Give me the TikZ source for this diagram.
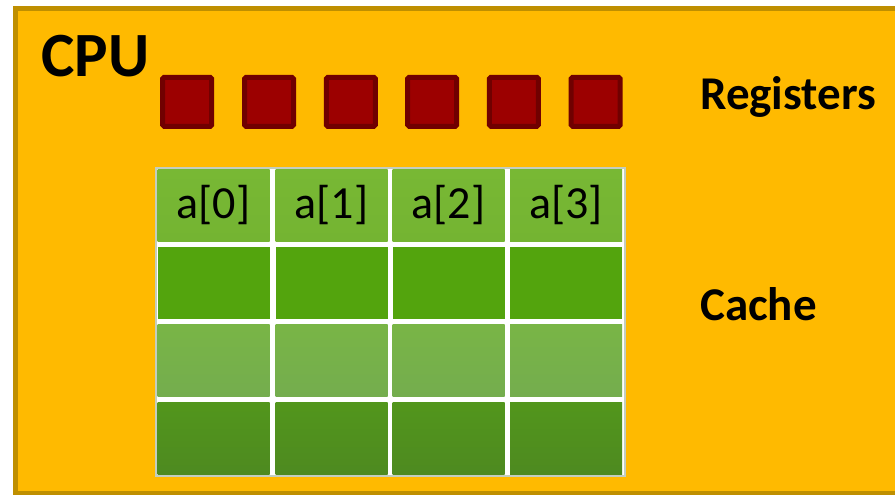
\documentclass[tikz,border=0pt]{standalone}
\usepackage{fontspec}
\setmainfont{Carlito}
\definecolor{cpufill}{HTML}{FFBA00}
\definecolor{cpuline}{HTML}{BF8F00}
\definecolor{regfill}{HTML}{9C0000}
\definecolor{regline}{HTML}{700000}
\definecolor{gridline}{HTML}{C3CEC0}
\definecolor{rowA}{HTML}{78B834}
\definecolor{rowAb}{HTML}{74B432}
\definecolor{rowB}{HTML}{53A40D}
\definecolor{rowC}{HTML}{79B546}
\definecolor{rowCb}{HTML}{74AD4E}
\definecolor{rowD}{HTML}{52961C}
\definecolor{rowDb}{HTML}{4E8A20}
\tikzset{
  regbox/.style={draw=regline, fill=regfill, line width=5pt, minimum size=49pt, inner sep=0pt, rounded corners=1.5pt},
  cell/.style={minimum width=112pt, minimum height=72pt, inner sep=0pt, font=\fontsize{46}{46}\selectfont},
  biglabel/.style={anchor=base west, inner sep=0pt, font=\fontsize{47}{47}\selectfont\bfseries},
}
\begin{document}
\begin{tikzpicture}[x=1pt,y=-1pt]
\useasboundingbox (0,0) rectangle (895,495);
\fill[white] (0,0) rectangle (895,495);
% CPU box
\draw[draw=cpuline, fill=cpufill, line width=5pt] (15.5,8.5) rectangle (905,493.5);
\node[anchor=base west, inner sep=0pt, font=\fontsize{63}{63}\selectfont\bfseries] (cpu) at (41,77) {CPU};
% registers
\foreach \i/\x in {1/187.2,2/269,3/350.8,4/432.2,5/513.9,6/595.7}{
  \node[regbox] (reg\i) at (\x,101.8) {};
}
\node[biglabel] (reglabel) at (700,110) {Registers};
% cache grid
\draw[draw=gridline, fill=white, line width=2pt] (155.5,167.5) rectangle (624.5,475.5);
\foreach \c/\x in {1/213.5,2/331.5,3/448.5,4/566}{
  \node[cell, top color=rowA, bottom color=rowAb] (r1c\c) at (\x,205.5) {};
  \node[cell, fill=rowB] (r2c\c) at (\x,283) {};
  \node[cell, top color=rowC, bottom color=rowCb] (r3c\c) at (\x,360.5) {};
  \node[cell, top color=rowD, bottom color=rowDb] (r4c\c) at (\x,438) {};
}
\node[cell, anchor=center] (t0) at (r1c1) {a[0]};
\node[cell, anchor=center] (t1) at (r1c2) {a[1]};
\node[cell, anchor=center] (t2) at (r1c3) {a[2]};
\node[cell, anchor=center] (t3) at (r1c4) {a[3]};
\node[biglabel] (cachelabel) at (700,320) {Cache};
\end{tikzpicture}
\end{document}
